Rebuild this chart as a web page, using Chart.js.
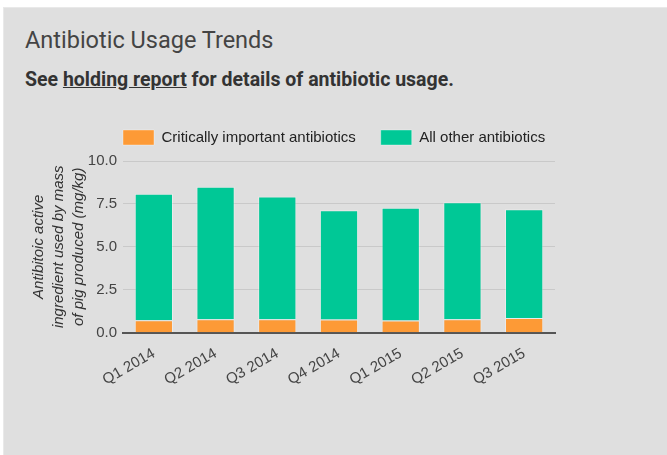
<!DOCTYPE html>
<html>
<head>
<meta charset="utf-8">
<script src="https://cdn.jsdelivr.net/npm/chart.js@4.4.1/dist/chart.umd.min.js"></script>
<style>
  html, body { margin: 0; padding: 0; background: #ffffff; width: 667px; height: 455px; overflow: hidden; }
  #card { position: absolute; left: 3px; top: 7px; width: 670px; height: 460px; background: #dfdfdf; border-left: 1px solid #e9e9e9; border-top: 1px solid #e9e9e9; }
  #title { position: absolute; left: 25px; top: 29.2px; font-family: Roboto, sans-serif; font-size: 23.5px; line-height: 23.5px; color: #444; white-space: nowrap; }
  #sub { position: absolute; left: 25px; top: 70.3px; font-family: Roboto, sans-serif; font-weight: bold; font-size: 19.5px; line-height: 19.5px; color: #333; white-space: nowrap; }
  #sub u { text-decoration: underline; }
  #wrap { position: absolute; left: 0; top: 0; width: 667px; height: 455px; }
</style>
</head>
<body>
<div id="card"></div>
<div id="title">Antibiotic Usage Trends</div>
<div id="sub">See <u>holding report</u> for details of antibiotic usage.</div>
<div id="wrap"><canvas id="c" width="667" height="455"></canvas></div>
<script>
const categories = ["Q1 2014", "Q2 2014", "Q3 2014", "Q4 2014", "Q1 2015", "Q2 2015", "Q3 2015"];
const criticalValues = [0.72, 0.78, 0.78, 0.76, 0.70, 0.78, 0.85];
const otherValues = [7.37, 7.72, 7.15, 6.37, 6.57, 6.82, 6.34];
const seriesNames = ["Critically important antibiotics", "All other antibiotics"];
const yTicks = [0, 2.5, 5, 7.5, 10];
const yTitleLines = ["Antibitoic active", "ingredient used by mass", "of pig produced (mg/kg)"];

const font = "'Liberation Sans', Arial, sans-serif";
const legendPad = 25;
const legendShift = {
  id: 'legendShift',
  beforeDraw(chart) {
    const lg = chart.legend;
    const h = lg.bottom - lg.top;
    lg.left = chart.chartArea.left - legendPad;
    lg.right = lg.left + 560;
    lg.top = 130 - legendPad;
    lg.bottom = lg.top + h;
  }
};
new Chart(document.getElementById('c'), {
  type: 'bar',
  data: {
    labels: categories,
    datasets: [
      { label: seriesNames[0], data: criticalValues, backgroundColor: '#fd9a36', borderColor: 'rgba(255,255,255,0.35)', borderWidth: 1, barPercentage: 0.62, categoryPercentage: 1 },
      { label: seriesNames[1], data: otherValues, backgroundColor: '#00c896', borderColor: 'rgba(255,255,255,0.35)', borderWidth: 1, barPercentage: 0.62, categoryPercentage: 1 }
    ]
  },
  plugins: [legendShift],
  options: {
    responsive: false,
    animation: false,
    devicePixelRatio: 1,
    layout: { padding: { left: 20, right: 112, top: 111, bottom: 62 } },
    plugins: {
      legend: {
        position: 'top',
        align: 'start',
        labels: { boxWidth: 31, boxHeight: 15, color: '#222', font: { family: font, size: 15 }, padding: legendPad }
      },
      tooltip: { enabled: false }
    },
    scales: {
      x: {
        stacked: true,
        grid: { display: false },
        border: { display: true, color: '#555', width: 2 },
        ticks: { color: '#444', font: { family: font, size: 15 }, minRotation: 30, maxRotation: 30, padding: 4 }
      },
      y: {
        stacked: true,
        min: 0, max: 10,
        afterBuildTicks: (s) => { s.ticks = yTicks.map(v => ({ value: v })); },
        afterFit: (s) => { s.width = 103; },
        border: { display: false },
        grid: { color: '#c9c9c9', lineWidth: 1, drawTicks: false },
        ticks: { color: '#444', font: { family: font, size: 15 }, padding: 6, callback: (v) => Number(v).toFixed(1) },
        title: { display: true, text: yTitleLines, color: '#333', font: { family: font, size: 15, style: 'italic', lineHeight: 1.33 }, padding: { top: 9, bottom: 0 } }
      }
    }
  }
});
</script>
</body>
</html>
